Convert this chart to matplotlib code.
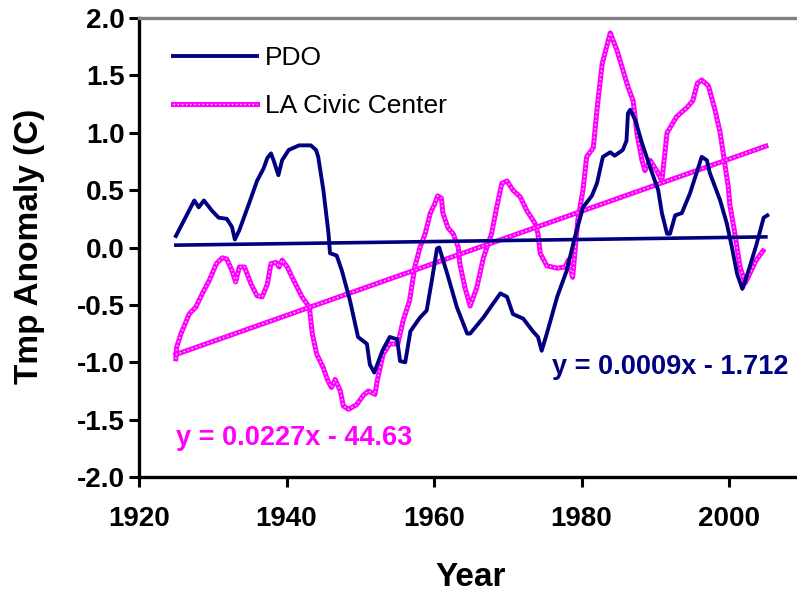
import numpy as np
import matplotlib
matplotlib.use("Agg")
import matplotlib.pyplot as plt
from matplotlib.legend_handler import HandlerTuple

plt.rcParams["font.family"] = ["Liberation Sans", "DejaVu Sans"]

# ---- data ----
pdo_year = [1925.0, 1927.5, 1928.1, 1928.8, 1929.9, 1930.8, 1931.9, 1932.6, 1933.0, 1933.6,
            1934.9, 1936.0, 1936.9, 1937.4, 1937.9, 1938.3, 1938.9, 1939.4, 1940.3, 1941.7,
            1943.3, 1944.0, 1944.3, 1945.0, 1945.7, 1945.9, 1946.8, 1947.5, 1948.6, 1949.7,
            1950.9, 1951.3, 1951.9, 1953.0, 1954.0, 1955.0, 1955.4, 1956.1, 1956.8, 1958.1,
            1959.0, 1959.7, 1960.4, 1960.7, 1961.8, 1963.1, 1964.5, 1964.9, 1966.7, 1968.0,
            1969.0, 1969.9, 1970.7, 1972.1, 1973.4, 1974.1, 1974.6, 1975.3, 1976.7, 1978.0,
            1979.1, 1980.2, 1981.4, 1982.1, 1982.9, 1983.9, 1984.5, 1985.6, 1986.1, 1986.3,
            1986.6, 1987.3, 1988.2, 1989.3, 1990.4, 1990.9, 1991.6, 1992.0, 1992.7, 1993.6,
            1994.7, 1995.7, 1996.3, 1997.0, 1997.4, 1998.8, 1999.7, 2000.4, 2001.1, 2001.8,
            2001.9, 2002.8, 2003.7, 2004.7, 2005.2]
pdo_val = [0.10, 0.41, 0.35, 0.41, 0.32, 0.26, 0.25, 0.18, 0.07, 0.15,
           0.38, 0.58, 0.69, 0.78, 0.82, 0.75, 0.63, 0.76, 0.85, 0.89,
           0.89, 0.85, 0.79, 0.50, 0.12, -0.05, -0.07, -0.20, -0.46, -0.78,
           -0.84, -1.02, -1.09, -0.90, -0.78, -0.80, -0.99, -1.00, -0.73, -0.61,
           -0.55, -0.29, -0.01, 0.00, -0.23, -0.52, -0.75, -0.75, -0.61, -0.49,
           -0.40, -0.43, -0.58, -0.62, -0.73, -0.78, -0.90, -0.75, -0.43, -0.20,
           0.09, 0.35, 0.45, 0.56, 0.79, 0.83, 0.80, 0.85, 0.93, 1.17,
           1.20, 1.11, 0.91, 0.70, 0.50, 0.30, 0.12, 0.12, 0.28, 0.30,
           0.47, 0.67, 0.79, 0.76, 0.65, 0.41, 0.21, 0.00, -0.23, -0.36,
           -0.35, -0.17, 0.02, 0.26, 0.28]

la_year = [1925.0, 1925.1, 1925.7, 1926.8, 1927.7, 1928.6, 1929.5, 1930.5, 1931.3, 1931.9,
           1932.6, 1933.1, 1933.6, 1934.3, 1935.2, 1936.0, 1936.7, 1937.4, 1937.9, 1938.6,
           1939.0, 1939.4, 1940.1, 1941.0, 1942.1, 1943.1, 1943.5, 1944.1, 1945.0, 1945.6,
           1946.1, 1946.6, 1947.3, 1947.7, 1948.4, 1949.5, 1950.4, 1951.1, 1952.0, 1952.3,
           1953.1, 1954.0, 1955.1, 1955.8, 1956.7, 1957.4, 1958.1, 1958.8, 1959.5, 1960.1,
           1960.5, 1961.0, 1961.2, 1961.9, 1962.6, 1963.3, 1963.5, 1964.2, 1964.9, 1965.8,
           1966.7, 1967.8, 1968.5, 1969.2, 1969.9, 1970.7, 1971.7, 1972.6, 1973.7, 1974.1,
           1974.4, 1975.3, 1976.7, 1977.8, 1978.2, 1978.8, 1979.1, 1979.5, 1980.2, 1980.7,
           1981.6, 1982.1, 1982.8, 1983.9, 1984.8, 1985.6, 1986.3, 1987.0, 1987.5, 1988.2,
           1988.6, 1989.3, 1990.2, 1990.9, 1991.6, 1992.9, 1994.3, 1995.1, 1995.7, 1996.3,
           1997.2, 1998.1, 1998.8, 1999.9, 2000.1, 2000.8, 2001.5, 2002.2, 2002.8, 2003.7,
           2004.6]
la_val = [-0.97, -0.87, -0.75, -0.58, -0.52, -0.40, -0.29, -0.14, -0.09, -0.10,
          -0.20, -0.30, -0.17, -0.17, -0.32, -0.42, -0.43, -0.32, -0.14, -0.13,
          -0.17, -0.11, -0.17, -0.29, -0.43, -0.52, -0.75, -0.93, -1.05, -1.16,
          -1.22, -1.15, -1.25, -1.38, -1.41, -1.37, -1.29, -1.25, -1.28, -1.16,
          -0.93, -0.84, -0.84, -0.64, -0.46, -0.17, 0.00, 0.12, 0.30, 0.38,
          0.45, 0.43, 0.30, 0.17, 0.12, 0.00, -0.14, -0.35, -0.51, -0.35,
          -0.09, 0.12, 0.35, 0.56, 0.58, 0.50, 0.44, 0.32, 0.21, 0.12,
          -0.05, -0.16, -0.18, -0.17, -0.11, -0.26, -0.05, 0.24, 0.50, 0.79,
          0.87, 1.20, 1.60, 1.87, 1.72, 1.55, 1.40, 1.28, 1.00, 0.76,
          0.67, 0.76, 0.67, 0.58, 1.00, 1.14, 1.22, 1.28, 1.43, 1.46,
          1.41, 1.20, 1.00, 0.53, 0.38, 0.12, -0.17, -0.31, -0.23, -0.11,
          -0.03]

# linear fits as printed on the chart (slope, intercept)
pdo_fit = [0.0009, -1.712]
la_fit = [0.0227, -44.63]
fit_years = [1925, 2005]

xticks = [1920, 1940, 1960, 1980, 2000]
yticks = [-2.0, -1.5, -1.0, -0.5, 0.0, 0.5, 1.0, 1.5, 2.0]

navy = "#000080"
magenta = "#FF00FF"

fig = plt.figure(figsize=(7.97, 5.94), dpi=100)
ax = fig.add_axes([139/797, 1 - 477/594, 1 - 139/797, (477 - 18)/594])

# magenta band + light dots on top, like the Excel square-marker line
band = dict(color=magenta, linewidth=3.6, solid_joinstyle="round")
dots = dict(color="#FFE0FF", linewidth=1.0, linestyle=(0, (1.0, 2.0)))

pdo_line, = ax.plot(pdo_year, pdo_val, color=navy, linewidth=2.8, zorder=3)
la_band, = ax.plot(la_year, la_val, zorder=2, **band)
la_dots, = ax.plot(la_year, la_val, zorder=2, **dots)

fx = np.array(fit_years, dtype=float)
ax.plot(fx, np.polyval(pdo_fit, fx), color=navy, linewidth=2.6, zorder=3)
ax.plot(fx, np.polyval(la_fit, fx), zorder=2, **band)
ax.plot(fx, np.polyval(la_fit, fx), zorder=2, **dots)

ax.set_xlim(1920, 1920 + (797 - 139) / 7.375)
ax.set_ylim(-2.0, 2.0)
ax.set_xticks(xticks)
ax.set_yticks(yticks)
ax.set_yticklabels([f"{v:.1f}" for v in yticks])

for s in ["left", "bottom"]:
    ax.spines[s].set_linewidth(2.4)
    ax.spines[s].set_color("black")
ax.spines["top"].set_color("#808080")
ax.spines["top"].set_linewidth(2.4)
ax.spines["right"].set_visible(False)

ax.tick_params(axis="both", direction="out", length=7, width=2.2, color="black",
               labelsize=20)
ax.tick_params(axis="y", pad=3)
ax.tick_params(axis="x", pad=14)
for lab in ax.get_xticklabels() + ax.get_yticklabels():
    lab.set_fontweight("bold")

leg = ax.legend([pdo_line, (la_band, la_dots)], ["PDO", "LA Civic Center"],
                handler_map={tuple: HandlerTuple(ndivide=1, pad=0)},
                loc="upper left", bbox_to_anchor=(0.035, 0.962), frameon=False,
                fontsize=19, handlelength=3.2, handletextpad=0.3, labelspacing=0.92,
                borderaxespad=0.0)

fig.text(552/797, 1 - 367/594, "y = 0.0009x - 1.712", color=navy, fontsize=19.5,
         fontweight="bold", ha="left", va="center")
fig.text(176/797, 1 - 438/594, "y = 0.0227x - 44.63", color=magenta, fontsize=19.5,
         fontweight="bold", ha="left", va="center")

fig.text(471/797, 1 - 586/594, "Year", fontsize=24, fontweight="bold",
         ha="center", va="baseline")
fig.text(30/797, 1 - 246/594, "Tmp Anomaly (C)", fontsize=24, fontweight="bold",
         rotation=90, ha="center", va="center")

fig.savefig("out.png", dpi=100)
